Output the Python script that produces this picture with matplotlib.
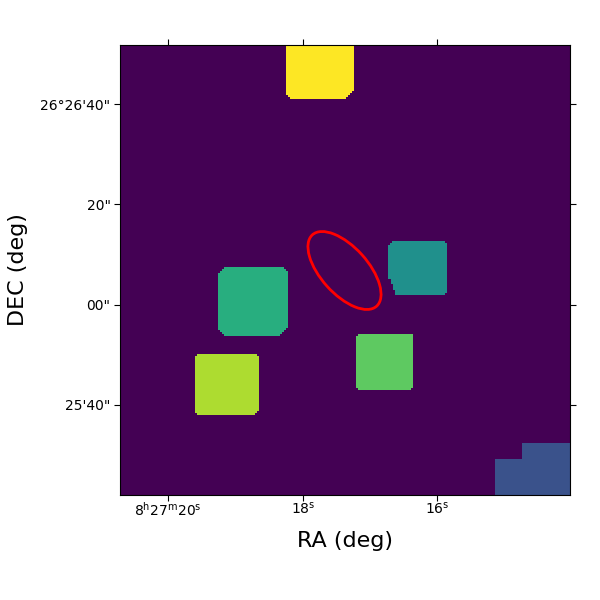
import numpy as np
import matplotlib
matplotlib.use("Agg")
import matplotlib.pyplot as plt
from matplotlib.patches import Ellipse

GRID = 450
STEP = 2
# blobs in grid units: x0, x1, y0, y1 (y counted from the bottom), level, corner steps (tl, tr, bl, br)
blob_x0 = [166, 98, 268, 236, 75]
blob_x1 = [234, 168, 327, 293, 139]
blob_y0 = [396, 159, 200, 105, 80]
blob_y1 = [450, 228, 254, 161, 141]
blob_level = [8.0, 5.0, 4.0, 6.0, 7.0]
blob_cuts = [(0, 0, 2, 4), (3, 2, 3, 4), (2, 1, 0, 1), (1, 0, 1, 1), (1, 1, 1, 2)]
# teal region's stepped lower-left edge: x0, x1, y0, y1
notch_x0 = [268, 268, 268]
notch_x1 = [271, 273, 275]
notch_y0 = [211, 205, 200]
notch_y1 = [216, 211, 205]
# staircase region in the lower right corner: x0, x1, y1
stair_x0 = [375, 402]
stair_x1 = [450, 450]
stair_y1 = [36, 52]
stair_level = 2.0
vmax = 8.0

ra_ticks = [48, 183, 317]
ra_labels = [r"$\mathregular{8^h27^m20^s}$", r"$\mathregular{18^s}$", r"$\mathregular{16^s}$"]
dec_ticks = [90, 190.5, 291, 391]
dec_labels = ["25'40\"", "00\"", "20\"", "26°26'40\""]

ell_center = (224.5, 224.5)
ell_width = 96
ell_height = 47
ell_angle = -48

img = np.zeros((GRID, GRID))
for x0, x1, y0, y1, lv, (tl, tr, bl, br) in zip(blob_x0, blob_x1, blob_y0, blob_y1, blob_level, blob_cuts):
    for r in range(y0, y1):
        a, b = x0, x1
        k_bot = (r - y0) // STEP
        k_top = (y1 - 1 - r) // STEP
        a += STEP * max(max(bl - k_bot, 0), max(tl - k_top, 0))
        b -= STEP * max(max(br - k_bot, 0), max(tr - k_top, 0))
        img[r, a:b] = lv
for x0, x1, y0, y1 in zip(notch_x0, notch_x1, notch_y0, notch_y1):
    img[y0:y1, x0:x1] = 0
for x0, x1, y1 in zip(stair_x0, stair_x1, stair_y1):
    img[:y1, x0:x1] = stair_level
img[50:52, 375:377] = 0

fig = plt.figure(figsize=(6, 6), dpi=100)
ax = fig.add_axes([0.2, 0.175, 0.75, 0.75])
ax.imshow(img, origin="lower", cmap="viridis", vmin=0, vmax=vmax, interpolation="nearest",
          extent=(0, GRID, 0, GRID), aspect="equal")
ax.add_patch(Ellipse(ell_center, ell_width, ell_height, angle=ell_angle, fill=False,
                     edgecolor="red", linewidth=2))
ax.set_xlim(0, GRID)
ax.set_ylim(0, GRID)
ax.set_xticks(ra_ticks, ra_labels, fontsize=10)
ax.set_yticks(dec_ticks, dec_labels, fontsize=10)
ax.tick_params(top=True, right=True, direction="out", length=4)
ax.tick_params(axis="x", pad=0)
ax.tick_params(axis="y", pad=2.8)
ax.set_xlabel("RA (deg)", fontsize=16, labelpad=9)
ax.set_ylabel("DEC (deg)", fontsize=16, labelpad=9.3)
fig.savefig("out.png", dpi=100)
